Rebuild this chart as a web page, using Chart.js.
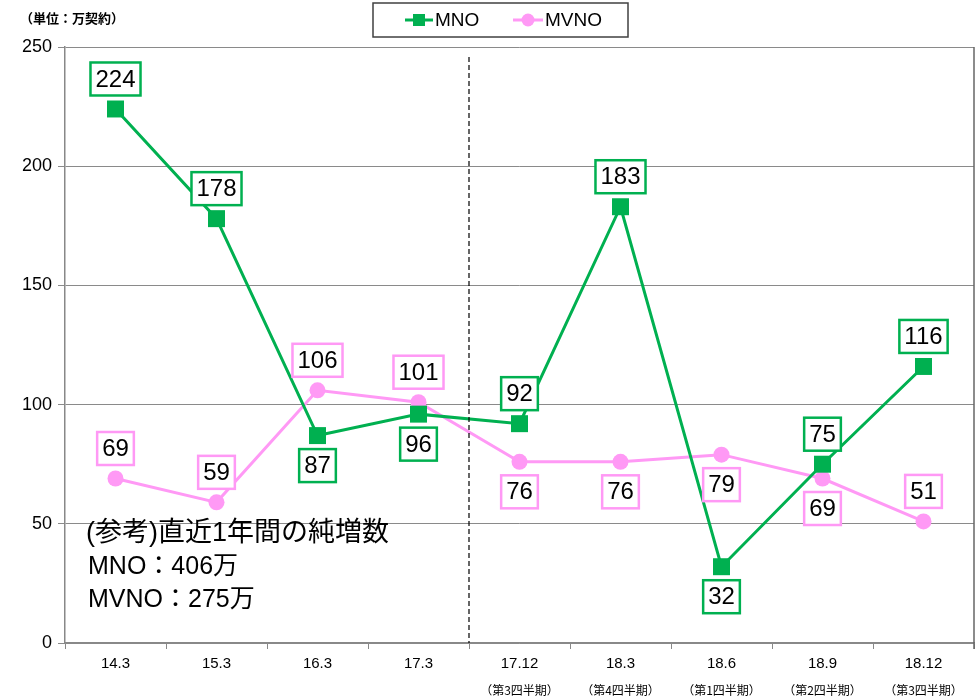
<!DOCTYPE html>
<html>
<head>
<meta charset="utf-8">
<script src="https://cdn.jsdelivr.net/npm/chart.js@4/dist/chart.umd.min.js"></script>
<style>
  html, body { margin: 0; padding: 0; background: #fff; }
  #wrap { width: 976px; height: 700px; }
</style>
</head>
<body>
<div id="wrap"><canvas id="myChart"></canvas></div>
<script>
// 期末ごとの純増数（万契約）
const categories = ["14.3", "15.3", "16.3", "17.3", "17.12", "18.3", "18.6", "18.9", "18.12"];
const subLabels = ["", "", "", "", "（第3四半期）", "（第4四半期）", "（第1四半期）", "（第2四半期）", "（第3四半期）"];
const mnoValues = [224, 178, 87, 96, 92, 183, 32, 75, 116];
const mvnoValues = [69, 59, 106, 101, 76, 76, 79, 69, 51];
const yTicks = [0, 50, 100, 150, 200, 250];

const GREEN = "#00b050";
const PINK = "#ff99f5";
const JP = "'Noto Sans CJK JP', 'Liberation Sans', sans-serif";
const LAT = "'Liberation Sans', 'Noto Sans CJK JP', sans-serif";

// ラベルの上下（1 = 上, -1 = 下）
const mnoLabelSide = [1, 1, -1, -1, 1, 1, -1, 1, 1];
const mvnoLabelSide = [1, 1, 1, 1, -1, -1, -1, -1, 1];

const extras = {
    id: "extras",
    afterDatasetsDraw(chart) {
        const ctx = chart.ctx;
        const area = chart.chartArea;
        const x = chart.scales.x;

        // 右枠
        ctx.save();
        ctx.strokeStyle = "#666";
        ctx.lineWidth = 1.5;
        ctx.beginPath();
        ctx.moveTo(area.right, area.top);
        ctx.lineTo(area.right, area.bottom + 6);
        ctx.stroke();
        ctx.restore();

        // 点線（17.3 と 17.12 の間）
        const xDiv = (x.getPixelForValue(3) + x.getPixelForValue(4)) / 2;
        ctx.save();
        ctx.strokeStyle = "#000";
        ctx.lineWidth = 1.2;
        ctx.setLineDash([5, 3]);
        ctx.beginPath();
        ctx.moveTo(xDiv, area.top + 10);
        ctx.lineTo(xDiv, area.bottom);
        ctx.stroke();
        ctx.restore();

        // 値ラベル
        chart.data.datasets.forEach((ds, i) => {
            const meta = chart.getDatasetMeta(i);
            meta.data.forEach((pt, j) => {
                const txt = String(ds.data[j]);
                ctx.save();
                ctx.font = "24px 'Liberation Sans Narrow', 'Liberation Sans', Arial, sans-serif";
                const w = Math.max(ctx.measureText(txt).width + 10, 34);
                const h = 33;
                const cy = pt.y - ds.labelSide[j] * 30;
                ctx.fillStyle = "#fff";
                ctx.fillRect(pt.x - w / 2, cy - h / 2, w, h);
                ctx.strokeStyle = ds.borderColor;
                ctx.lineWidth = 2.5;
                ctx.strokeRect(pt.x - w / 2, cy - h / 2, w, h);
                ctx.fillStyle = "#000";
                ctx.textAlign = "center";
                ctx.textBaseline = "middle";
                ctx.fillText(txt, pt.x, cy + 1);
                ctx.restore();
            });
        });
    },
    afterDraw(chart) {
        const ctx = chart.ctx;
        const x = chart.scales.x;

        // 四半期の補足
        ctx.save();
        ctx.font = "12px " + JP;
        ctx.fillStyle = "#000";
        ctx.textAlign = "center";
        ctx.textBaseline = "middle";
        subLabels.forEach((s, i) => {
            if (s) ctx.fillText(s, x.getPixelForValue(i), 690);
        });

        // 単位
        ctx.font = "bold 13px " + JP;
        ctx.textAlign = "left";
        ctx.fillText("（単位：万契約）", 20, 18);

        // 注記
        ctx.font = "27px " + LAT;
        ctx.fillText("(参考)直近1年間の純増数", 86, 534);
        ctx.font = "25px " + LAT;
        ctx.fillText("MNO：406万", 88, 567);
        ctx.fillText("MVNO：275万", 88, 600);

        // 凡例
        ctx.fillStyle = "#fff";
        ctx.fillRect(373, 3, 255, 34);
        ctx.strokeStyle = "#404040";
        ctx.lineWidth = 1.5;
        ctx.strokeRect(373, 3, 255, 34);

        ctx.lineWidth = 3;
        ctx.strokeStyle = GREEN;
        ctx.beginPath(); ctx.moveTo(405, 20); ctx.lineTo(433, 20); ctx.stroke();
        ctx.fillStyle = GREEN;
        ctx.fillRect(413, 14, 12, 12);
        ctx.strokeStyle = PINK;
        ctx.beginPath(); ctx.moveTo(513, 20); ctx.lineTo(543, 20); ctx.stroke();
        ctx.fillStyle = PINK;
        ctx.beginPath(); ctx.arc(528, 20, 6.5, 0, Math.PI * 2); ctx.fill();

        ctx.fillStyle = "#000";
        ctx.font = "19px 'Liberation Sans', Arial, sans-serif";
        ctx.fillText("MNO", 435, 21);
        ctx.fillText("MVNO", 545, 21);
        ctx.restore();
    }
};

const config = {
    type: "line",
    data: {
        labels: categories,
        datasets: [
            {
                label: "MNO",
                data: mnoValues,
                borderColor: GREEN,
                backgroundColor: GREEN,
                borderWidth: 3,
                pointStyle: "rect",
                pointRadius: 12,
                pointBorderWidth: 0,
                labelSide: mnoLabelSide,
            },
            {
                label: "MVNO",
                data: mvnoValues,
                borderColor: PINK,
                backgroundColor: PINK,
                borderWidth: 3,
                pointStyle: "circle",
                pointRadius: 8,
                pointBorderWidth: 0,
                labelSide: mvnoLabelSide,
            },
        ],
    },
    options: {
        responsive: false,
        animation: false,
        layout: { autoPadding: false, padding: { top: 47, right: 2, left: 0, bottom: 0 } },
        plugins: { legend: { display: false }, tooltip: { enabled: false } },
        scales: {
            x: {
                offset: true,
                grid: { offset: true, drawOnChartArea: false, tickLength: 6, color: "#888" },
                border: { color: "#888", width: 1.5 },
                ticks: {
                    color: "#000",
                    padding: 6,
                    font: { size: 15, family: "'Liberation Sans', Arial, sans-serif" },
                },
                afterFit: (s) => {
                    s.height = 57;
                    s.paddingLeft = 0;
                    s.paddingRight = 0;
                },
            },
            y: {
                min: 0,
                max: 250,
                afterBuildTicks: (s) => { s.ticks = yTicks.map((v) => ({ value: v })); },
                grid: { color: "#8a8a8a", lineWidth: 1, tickLength: 7 },
                border: { color: "#888", width: 1.5 },
                ticks: {
                    color: "#000",
                    padding: 6,
                    font: { size: 18, family: "'Liberation Sans', Arial, sans-serif" },
                },
                afterFit: (s) => { s.width = 65; },
            },
        },
    },
    plugins: [extras],
};

const canvas = document.getElementById("myChart");
canvas.width = 976;
canvas.height = 700;
new Chart(canvas, config);
</script>
</body>
</html>
